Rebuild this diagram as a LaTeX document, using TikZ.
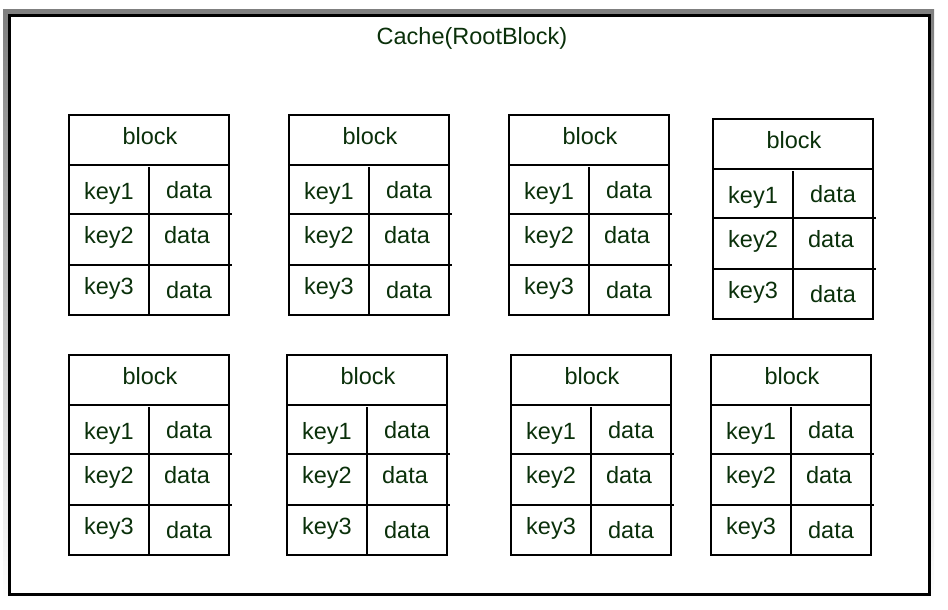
\documentclass[tikz,border=0pt]{standalone}
\usepackage{fontspec}
\setmainfont{Liberation Sans}
\definecolor{inkgreen}{RGB}{10,48,10}
\definecolor{shade}{RGB}{221,221,221}
\begin{document}
\begin{tikzpicture}[x=1pt,y=-1pt,
  blockbox/.style={draw=black,line width=2pt,minimum width=160pt,minimum height=200pt,inner sep=0pt,outer sep=0pt},
  rule/.style={draw=black,line width=2pt},
  celltext/.style={text=inkgreen,font=\fontsize{23.5}{23.5}\selectfont,anchor=base,inner sep=0pt}]
\useasboundingbox (0,0) rectangle (948,610);

% outer cache frame with its grey rim
\fill[shade] (3,10) rectangle (934,600);
\draw[line width=2.5pt,fill=white] (9.5,15.5) rectangle (929.5,594.5);
\node[celltext] (root) at (472,45) {Cache(RootBlock)};

% one block: header plus three key/data rows
\newcommand\cacheblock[3]{%
  \begin{scope}[shift={(#2,#3)}]
    \node[blockbox] (#1) at (80,100) {};
    \draw[rule] (0,50) -- (160,50);
    \draw[rule] (80,52) -- (80,200);
    \draw[rule] (1,99) -- (163,99);
    \draw[rule] (1,150) -- (163,150);
    \node[celltext] (#1-title) at (81,29) {block};
    \node[celltext] (#1-k1) at (40,84) {key1};
    \node[celltext] (#1-d1) at (120,83) {data};
    \node[celltext] (#1-k2) at (40,128) {key2};
    \node[celltext] (#1-d2) at (118,128) {data};
    \node[celltext] (#1-k3) at (40,179) {key3};
    \node[celltext] (#1-d3) at (120,183) {data};
  \end{scope}}

\cacheblock{b1}{69}{115}
\cacheblock{b2}{289}{115}
\cacheblock{b3}{509}{115}
\cacheblock{b4}{713}{119}
\cacheblock{b5}{69}{355}
\cacheblock{b6}{287}{355}
\cacheblock{b7}{511}{355}
\cacheblock{b8}{711}{355}
\end{tikzpicture}
\end{document}
